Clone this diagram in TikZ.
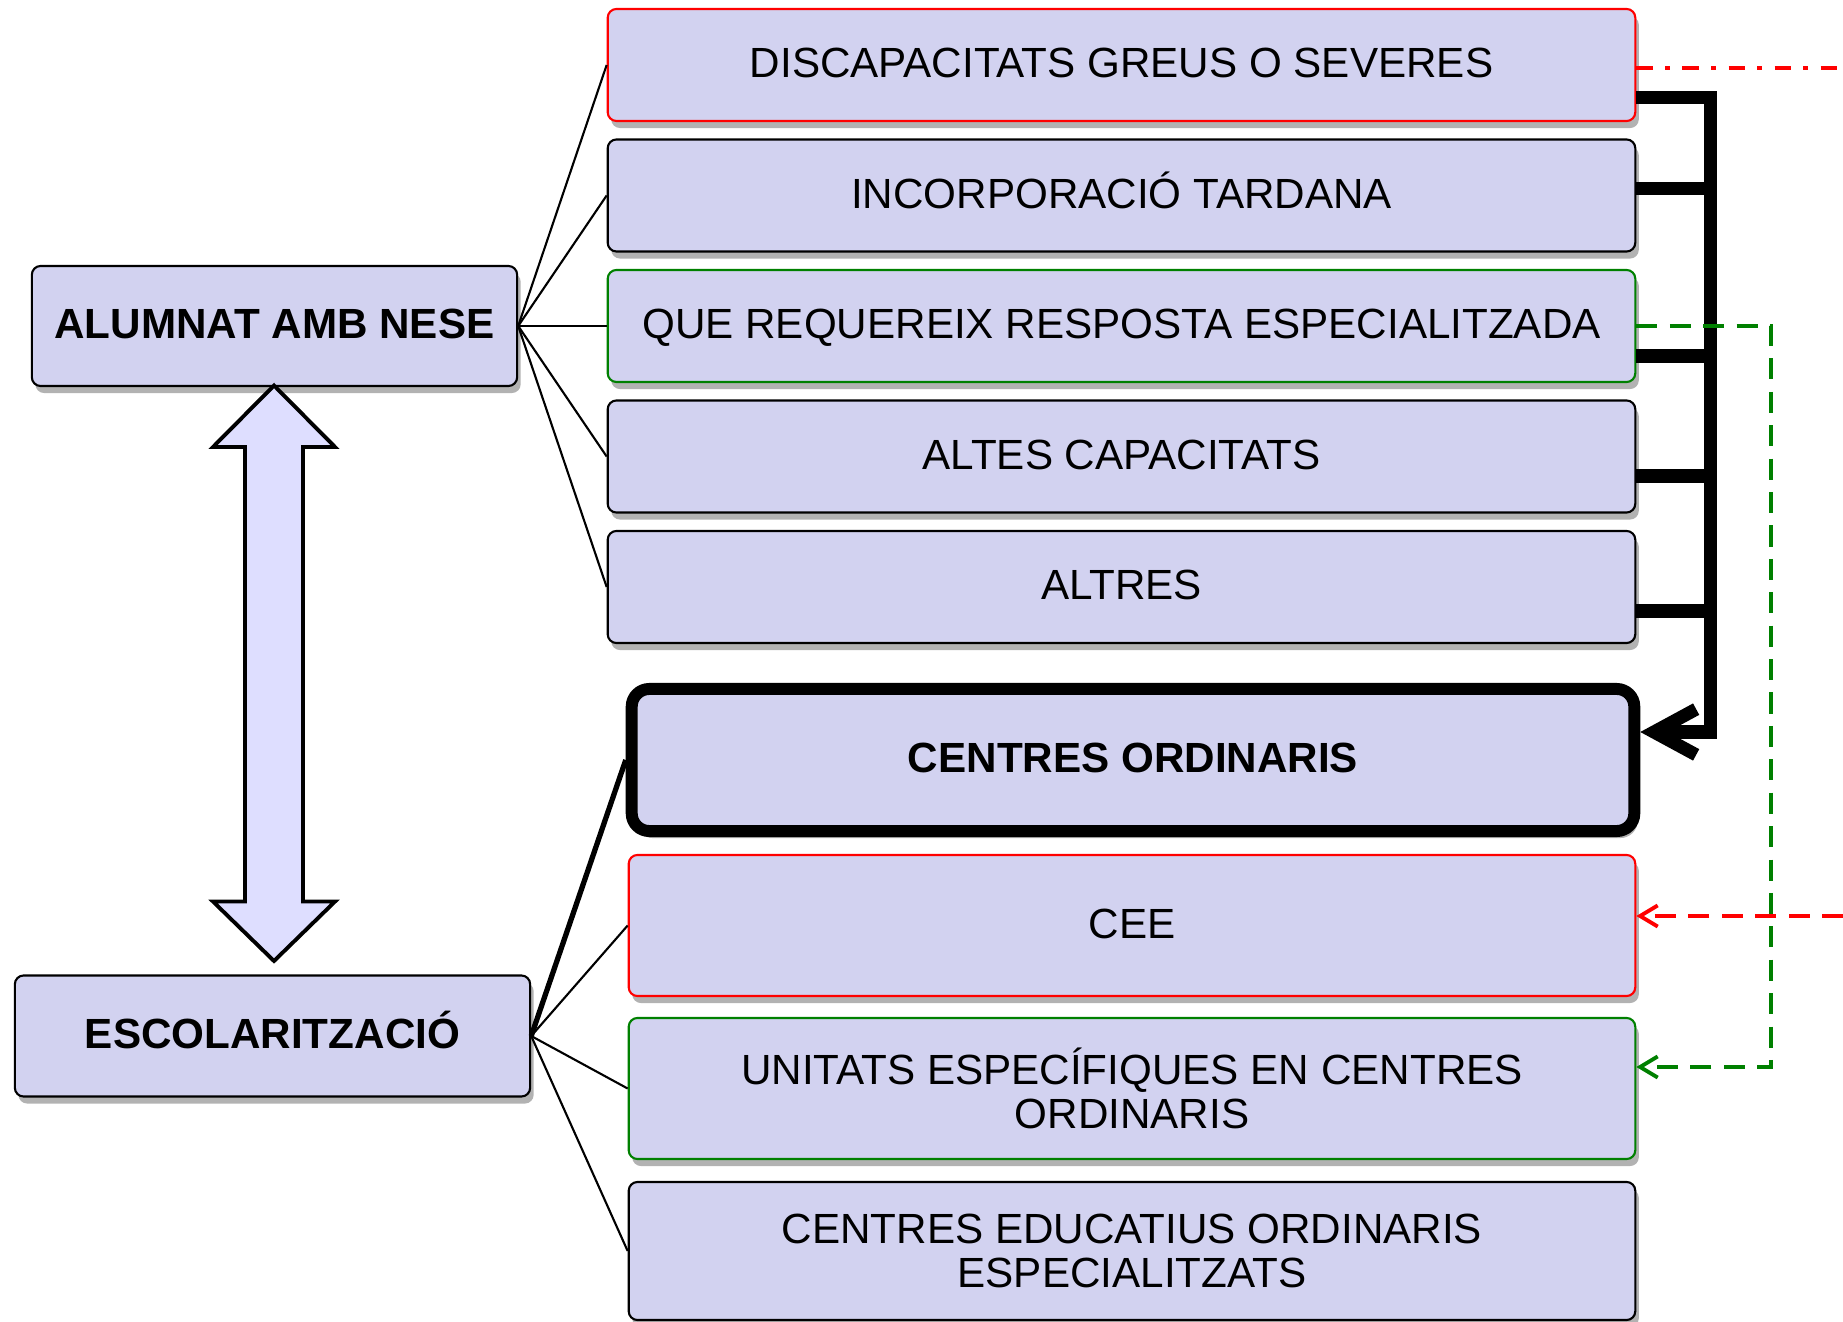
\documentclass[tikz,border=0pt]{standalone}
\usepackage{fontspec}
\setmainfont{Liberation Sans}
\usetikzlibrary{arrows.meta,shadows}

\definecolor{boxfill}{RGB}{210,210,240}
\definecolor{arrowfill}{RGB}{222,222,255}
\definecolor{darkgreen}{RGB}{0,128,0}

\begin{document}
\begin{tikzpicture}[x=0.01cm, y=-0.01cm,
  txt/.style={font=\fontsize{12}{12.6}\selectfont},
  box/.style={txt, draw, rounded corners=2.5pt, fill=boxfill, line width=0.6pt,
    align=center, inner sep=0pt,
    drop shadow={shadow xshift=1pt, shadow yshift=-2pt, opacity=0.3, fill=black}},
  oneline/.style={text height=0.72em, text depth=0pt},
  topbox/.style={box, oneline, minimum width=10.27cm, minimum height=1.12cm},
  botbox/.style={box, minimum width=10.06cm, minimum height=1.41cm},
  link/.style={line width=0.6pt},
  bus/.style={line width=3.7pt},
  dashline/.style={line width=1.1pt, dash pattern=on 6pt off 3.5pt}]
\useasboundingbox (0,0) rectangle (1843,1322);

% left side
\node[box, oneline, font=\fontsize{12}{12.6}\selectfont\bfseries, minimum width=4.85cm, minimum height=1.20cm] (nese) at (274.5,326) {ALUMNAT AMB NESE};
\node[box, oneline, font=\fontsize{12}{12.6}\selectfont\bfseries, minimum width=5.15cm, minimum height=1.21cm] (esc) at (272.5,1036) {ESCOLARITZACIÓ};
\draw[line width=1.1pt, fill=arrowfill] (274,385.5) -- (335,447) -- (303,447) -- (303,901.5) -- (335,901.5) -- (274,961)
  -- (213,901.5) -- (245,901.5) -- (245,447) -- (213,447) -- cycle;

% top boxes
\node[topbox, draw=red] (dis) at (1121.5,65) {DISCAPACITATS GREUS O SEVERES};
\node[topbox] (inc) at (1121.5,195.5) {INCORPORACIÓ TARDANA};
\node[topbox, draw=darkgreen] (que) at (1121.5,326) {QUE REQUEREIX RESPOSTA ESPECIALITZADA};
\node[topbox] (altes) at (1121.5,456.5) {ALTES CAPACITATS};
\node[topbox] (altres) at (1121.5,587) {ALTRES};

% bottom boxes
\node[box, oneline, font=\fontsize{12}{12.6}\selectfont\bfseries, line width=3.4pt, rounded corners=5pt,
  minimum width=10.02cm, minimum height=1.42cm] (co) at (1133,760) {CENTRES ORDINARIS};
\node[botbox, oneline, draw=red] (cee) at (1132,925.5) {CEE};
\node[botbox, draw=darkgreen] (unit) at (1132,1088.5) {UNITATS ESPECÍFIQUES EN CENTRES\\ORDINARIS};
\node[botbox, minimum height=1.38cm] (ceo) at (1132,1251) {CENTRES EDUCATIUS ORDINARIS\\ESPECIALITZATS};

\foreach \n in {dis,inc,que,altes,altres}
  \draw[link] (nese.east) -- (\n.west);
\draw[line width=1.5pt] (esc.east) -- (co.west);
\foreach \n in {cee,unit,ceo}
  \draw[link] (esc.east) -- (\n.west);

% bus into centres ordinaris
\draw[bus, -{Straight Barb[length=12pt, width=13pt]}] (dis.east |- 0,98) -| (1710,732) -- (co.east |- 0,732);
\foreach \n/\y in {inc/189, que/356, altes/476, altres/611}
  \draw[bus] (\n.east |- 0,\y) -- (1710,\y);

% dashed links
\coordinate (gcorner) at (1771,1067);
\draw[dashline, darkgreen, -{Straight Barb[length=5pt, width=6pt]}] (que.east) -| (gcorner) -- (unit.east |- gcorner);
\coordinate (redout) at (1843,68);
\draw[red, line width=1.1pt, dash pattern=on 4.7pt off 3.5pt on 1.4pt off 3.5pt] (dis.east |- redout) -- (redout);
\coordinate (redin) at (1843,916);
\draw[dashline, red, -{Straight Barb[length=5pt, width=6pt]}] (redin) -- (redin -| cee.east);
\end{tikzpicture}
\end{document}
